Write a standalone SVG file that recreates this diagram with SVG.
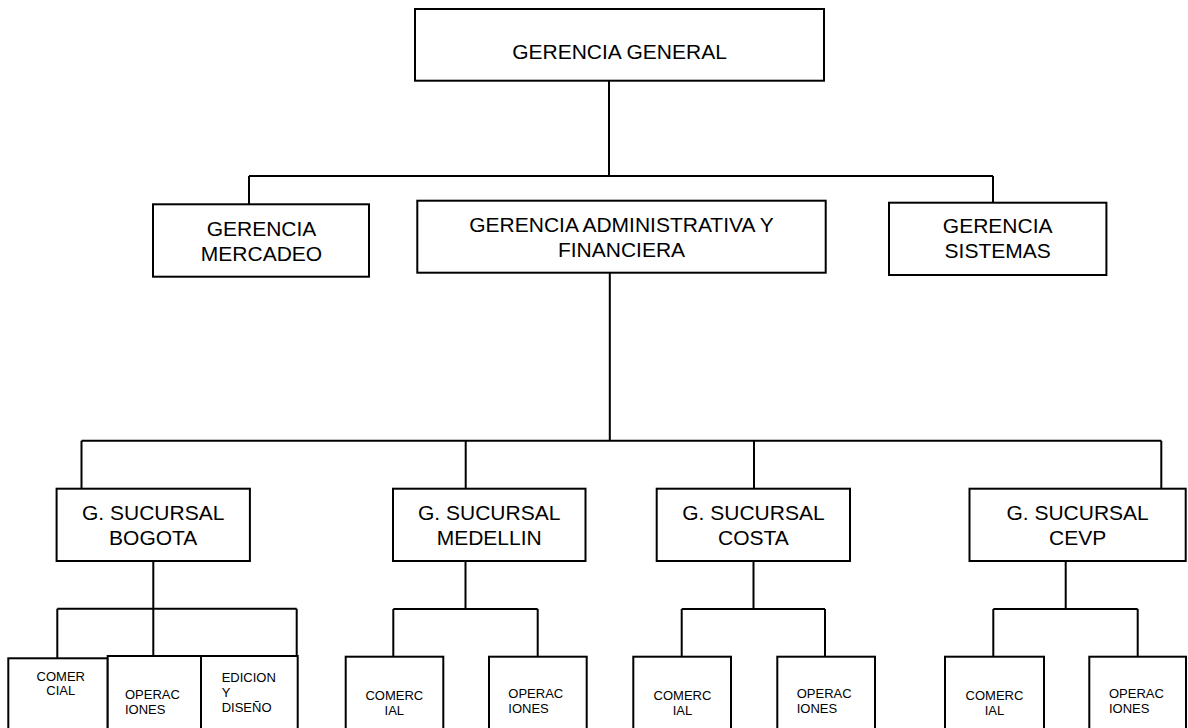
<svg xmlns="http://www.w3.org/2000/svg" width="1188" height="728" viewBox="0 0 1188 728">
<style>
.box{fill:#fff;stroke:#000;stroke-width:2}
.ln{fill:none;stroke:#000;stroke-width:2}
.t{font-family:"Liberation Sans",Arial,sans-serif;font-size:21px;fill:#000;text-anchor:middle}
.s{font-family:"Liberation Sans",Arial,sans-serif;font-size:13px;fill:#000}
.c{text-anchor:middle}
</style>
<rect width="1188" height="728" fill="#fff"/>
<g id="connectors">
<path class="ln" d="M609 80.7V176M249 176H993M249 176V204.3M993 176V202.7"/>
<path class="ln" d="M609.8 272.7V440.7M81.5 440.7H1161.3M81.5 440.7V488.7M465.7 440.7V488.7M754 440.7V488.7M1161.3 440.7V488.7"/>
<path class="ln" d="M153.3 561V608.7M57.3 608.7H296.7M57.3 608.7V658.3M153.3 608.7V656M296.7 608.7V656"/>
<path class="ln" d="M465.5 561V609M393.3 609H537.7M393.3 609V656.7M537.7 609V656.7"/>
<path class="ln" d="M753.5 561V609M681.7 609H825M681.7 609V656.7M825 609V656.7"/>
<path class="ln" d="M1065.7 561V609M993.3 609H1137.7M993.3 609V656.7M1137.7 609V656.7"/>
</g>
<g id="gerencia-general">
<rect class="box" x="415" y="9" width="409" height="71.7"/>
<text class="t" x="619.5" y="59">GERENCIA GENERAL</text>
</g>
<g id="gerencia-mercadeo">
<rect class="box" x="153" y="204.3" width="216" height="72.4"/>
<text class="t" x="261.5" y="236">GERENCIA</text>
<text class="t" x="261.5" y="260.7">MERCADEO</text>
</g>
<g id="gerencia-administrativa">
<rect class="box" x="417.3" y="200.7" width="408.4" height="72"/>
<text class="t" x="621.5" y="231.7">GERENCIA ADMINISTRATIVA Y</text>
<text class="t" x="621.5" y="256.7">FINANCIERA</text>
</g>
<g id="gerencia-sistemas">
<rect class="box" x="889" y="202.7" width="217.4" height="72.3"/>
<text class="t" x="997.7" y="233.3">GERENCIA</text>
<text class="t" x="997.7" y="258.3">SISTEMAS</text>
</g>
<g id="sucursal-bogota">
<rect class="box" x="56.6" y="488.7" width="193.3" height="72.3"/>
<text class="t" x="153.2" y="520">G. SUCURSAL</text>
<text class="t" x="153.2" y="545">BOGOTA</text>
</g>
<g id="sucursal-medellin">
<rect class="box" x="393" y="488.7" width="192.5" height="72.3"/>
<text class="t" x="489.2" y="520">G. SUCURSAL</text>
<text class="t" x="489.2" y="545">MEDELLIN</text>
</g>
<g id="sucursal-costa">
<rect class="box" x="656.7" y="488.7" width="193.3" height="72.3"/>
<text class="t" x="753.4" y="520">G. SUCURSAL</text>
<text class="t" x="753.4" y="545">COSTA</text>
</g>
<g id="sucursal-cevp">
<rect class="box" x="969.5" y="488.7" width="216.2" height="72.3"/>
<text class="t" x="1077.6" y="520">G. SUCURSAL</text>
<text class="t" x="1077.6" y="545">CEVP</text>
</g>
<g id="bogota-comercial">
<rect class="box" x="8.3" y="658.3" width="99.4" height="90"/>
<text class="s c" x="60.8" y="681">COMER</text>
<text class="s c" x="60.8" y="695">CIAL</text>
</g>
<g id="bogota-operaciones">
<rect class="box" x="107.7" y="656" width="93.3" height="92"/>
<text class="s" x="125" y="699">OPERAC</text>
<text class="s" x="125" y="713.5">IONES</text>
</g>
<g id="bogota-edicion">
<rect class="box" x="201" y="656" width="96.7" height="92"/>
<text class="s" x="221.7" y="682">EDICION</text>
<text class="s" x="221.7" y="696.5">Y</text>
<text class="s" x="221.7" y="711.5">DISEÑO</text>
</g>
<g id="medellin-comercial">
<rect class="box" x="345.7" y="656.7" width="97.6" height="92"/>
<text class="s c" x="394.3" y="700">COMERC</text>
<text class="s c" x="394.3" y="714.5">IAL</text>
</g>
<g id="medellin-operaciones">
<rect class="box" x="489" y="656.7" width="97.7" height="92"/>
<text class="s" x="508.3" y="698">OPERAC</text>
<text class="s" x="508.3" y="712.5">IONES</text>
</g>
<g id="costa-comercial">
<rect class="box" x="633.3" y="656.7" width="97.7" height="92"/>
<text class="s c" x="682.5" y="700">COMERC</text>
<text class="s c" x="682.5" y="714.5">IAL</text>
</g>
<g id="costa-operaciones">
<rect class="box" x="777.3" y="656.7" width="97.7" height="92"/>
<text class="s" x="796.7" y="698">OPERAC</text>
<text class="s" x="796.7" y="712.5">IONES</text>
</g>
<g id="cevp-comercial">
<rect class="box" x="945" y="656.7" width="99" height="92"/>
<text class="s c" x="994.5" y="700">COMERC</text>
<text class="s c" x="994.5" y="714.5">IAL</text>
</g>
<g id="cevp-operaciones">
<rect class="box" x="1089.3" y="656.7" width="96.7" height="92"/>
<text class="s" x="1109" y="698">OPERAC</text>
<text class="s" x="1109" y="712.5">IONES</text>
</g>
</svg>
